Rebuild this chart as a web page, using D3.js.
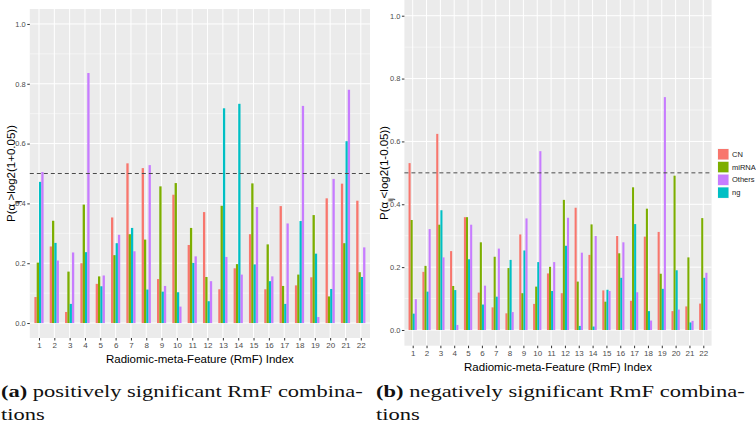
<!DOCTYPE html>
<html>
<head>
<meta charset="utf-8">
<script src="https://cdn.jsdelivr.net/npm/d3@7"></script>
<style>
  html, body { margin: 0; padding: 0; background: #fff; }
  svg { display: block; }
</style>
</head>
<body>
<svg id="chart" width="756" height="431"></svg>
<script>
// ---------------- DATA ----------------
const categories = ["1","2","3","4","5","6","7","8","9","10","11","12","13","14","15","16","17","18","19","20","21","22"];
const dodgeOrder = ["CN", "miRNA", "ng", "Others"];
const legendOrder = ["CN", "miRNA", "Others", "ng"];
const seriesColors = ["#F8766D", "#7CAE00", "#00BFC4", "#C77CFF"]; // CN, miRNA, ng, Others
const yTicks = [0, 0.2, 0.4, 0.6, 0.8, 1.0];
const yMinorTicks = [0.1, 0.3, 0.5, 0.7, 0.9];
const threshold = 0.5;

// (a) positively significant
const posCN     = [0.087,0.256,0.037,0.200,0.131,0.353,0.534,0.518,0.147,0.429,0.261,0.371,0.113,0.183,0.297,0.113,0.391,0.126,0.153,0.417,0.466,0.409];
const posMiRNA  = [0.202,0.342,0.172,0.396,0.156,0.227,0.297,0.279,0.457,0.468,0.318,0.154,0.392,0.197,0.467,0.263,0.124,0.162,0.361,0.089,0.267,0.170];
const posNg     = [0.472,0.268,0.064,0.237,0.123,0.267,0.318,0.112,0.105,0.103,0.201,0.073,0.718,0.733,0.196,0.140,0.064,0.341,0.232,0.114,0.608,0.154];
const posOthers = [0.505,0.209,0.236,0.836,0.159,0.295,0.240,0.528,0.124,0.055,0.223,0.140,0.221,0.162,0.388,0.156,0.333,0.726,0.020,0.482,0.780,0.253];

// (b) negatively significant
const negCN     = [0.531,0.185,0.624,0.251,0.359,0.119,0.072,0.053,0.304,0.083,0.180,0.117,0.389,0.239,0.126,0.299,0.093,0.297,0.312,0.060,0.075,0.084];
const negMiRNA  = [0.350,0.204,0.335,0.140,0.359,0.279,0.233,0.197,0.117,0.138,0.201,0.414,0.154,0.336,0.090,0.244,0.454,0.386,0.179,0.491,0.231,0.356];
const negNg     = [0.052,0.122,0.381,0.127,0.225,0.081,0.106,0.223,0.253,0.216,0.124,0.268,0.013,0.011,0.128,0.166,0.337,0.060,0.131,0.190,0.024,0.166];
const negOthers = [0.098,0.321,0.231,0.016,0.335,0.141,0.259,0.057,0.355,0.569,0.216,0.357,0.246,0.299,0.124,0.279,0.120,0.030,0.741,0.065,0.029,0.182];

const xTitle = "Radiomic-meta-Feature (RmF) Index";

// ---------------- DRAW ----------------
const svg = d3.select("#chart");
const sans = "'Liberation Sans', Arial, Helvetica, sans-serif";
const serif = "'Liberation Serif', 'Times New Roman', serif";
const color = d3.scaleOrdinal().domain(dodgeOrder).range(seriesColors);

function drawPanel(cfg) {
  const g = svg.append("g");
  const x = d3.scalePoint().domain(categories).range([cfg.left, cfg.right]).padding(0.6);
  const y = d3.scaleLinear().domain([-0.05, 1.05]).range([cfg.bottom, cfg.top]);
  const step = x.step();
  const inner = d3.scaleBand().domain(dodgeOrder).range([-0.3 * step, 0.3 * step]);

  g.append("rect")
    .attr("x", cfg.left).attr("y", cfg.top)
    .attr("width", cfg.right - cfg.left).attr("height", cfg.bottom - cfg.top)
    .attr("fill", "#EBEBEB");

  g.selectAll(".ymin").data(yMinorTicks).join("line")
    .attr("x1", cfg.left).attr("x2", cfg.right)
    .attr("y1", d => y(d)).attr("y2", d => y(d))
    .attr("stroke", "#fff").attr("stroke-width", 0.5);
  g.selectAll(".ymaj").data(yTicks).join("line")
    .attr("x1", cfg.left).attr("x2", cfg.right)
    .attr("y1", d => y(d)).attr("y2", d => y(d))
    .attr("stroke", "#fff").attr("stroke-width", 1);
  g.selectAll(".xmaj").data(categories).join("line")
    .attr("x1", d => x(d)).attr("x2", d => x(d))
    .attr("y1", cfg.top).attr("y2", cfg.bottom)
    .attr("stroke", "#fff").attr("stroke-width", 1);

  const rows = [];
  categories.forEach((c, i) => {
    dodgeOrder.forEach((s) => {
      rows.push({ cat: c, series: s, value: cfg.values[s][i] });
    });
  });
  g.selectAll(".bar").data(rows).join("rect")
    .attr("x", d => x(d.cat) + inner(d.series))
    .attr("width", inner.bandwidth())
    .attr("y", d => y(d.value))
    .attr("height", d => y(0) - y(d.value))
    .attr("fill", d => color(d.series));

  g.append("line")
    .attr("x1", cfg.left).attr("x2", cfg.right)
    .attr("y1", y(threshold)).attr("y2", y(threshold))
    .attr("stroke", "#4a4a4a").attr("stroke-width", 1)
    .attr("stroke-dasharray", "4,3");

  const yAxis = d3.axisLeft(y).tickValues(yTicks).tickFormat(d3.format(".1f")).tickSize(2.5).tickPadding(1.5);
  const ya = g.append("g").attr("transform", `translate(${cfg.left},0)`).call(yAxis);
  ya.select(".domain").remove();
  ya.selectAll(".tick line").attr("stroke", "#333");
  ya.selectAll(".tick text").attr("fill", "#4D4D4D").style("font", `7.5px ${sans}`);

  const xAxis = d3.axisBottom(x).tickSize(2.5).tickPadding(2);
  const xa = g.append("g").attr("transform", `translate(0,${cfg.bottom})`).call(xAxis);
  xa.select(".domain").remove();
  xa.selectAll(".tick line").attr("stroke", "#333");
  xa.selectAll(".tick text").attr("fill", "#4D4D4D").style("font", `8px ${sans}`);

  g.append("text")
    .attr("x", (cfg.left + cfg.right) / 2).attr("y", cfg.bottom + 25)
    .attr("text-anchor", "middle")
    .attr("fill", "#000")
    .style("font", `11.5px ${sans}`)
    .text(xTitle);

  const yt = g.append("text")
    .attr("transform", `translate(${cfg.ytx},${(cfg.top + cfg.bottom) / 2}) rotate(-90)`)
    .attr("text-anchor", "middle")
    .attr("fill", "#000")
    .style("font", `11.5px ${sans}`);
  yt.append("tspan").text("P(\u03B1");
  yt.append("tspan").attr("baseline-shift", "sub").style("font-size", "7.5px").text("ij");
  yt.append("tspan").text(cfg.yrel);

  const cap1 = g.append("text").attr("fill", "#111").style("font", `17px ${serif}`);
  cap1.append("tspan").attr("font-weight", "bold").text(cfg.capLabel);
  cap1.append("tspan").text(" " + cfg.capText);
  const w1 = cap1.node().getComputedTextLength();
  cap1.attr("transform", `translate(${cfg.capX},${cfg.capY}) scale(${cfg.capW / w1},1)`);
  const cap2 = g.append("text").attr("fill", "#111").style("font", `17px ${serif}`).text(cfg.capText2);
  cap2.attr("transform", `translate(${cfg.capX},${cfg.capY + 23}) scale(${cfg.capW / w1},1)`);
}

drawPanel({
  left: 29.8, right: 370, top: 9, bottom: 338, ytx: 15,
  yrel: ">log2(1+0.05))",
  values: { CN: posCN, miRNA: posMiRNA, ng: posNg, Others: posOthers },
  capLabel: "(a)", capText: "positively significant RmF combina-", capText2: "tions",
  capX: 1, capY: 397, capW: 362
});

drawPanel({
  left: 404.4, right: 711.6, top: 0, bottom: 345.7, ytx: 388,
  yrel: "<log2(1-0.05))",
  values: { CN: negCN, miRNA: negMiRNA, ng: negNg, Others: negOthers },
  capLabel: "(b)", capText: "negatively significant RmF combina-", capText2: "tions",
  capX: 376, capY: 397, capW: 369
});

const legend = svg.append("g").attr("transform", "translate(717.5,148.5)");
const keyS = 11.5, keyStep = 12.8;
legendOrder.forEach((s, i) => {
  const r = legend.append("g").attr("transform", `translate(0,${i * keyStep})`);
  r.append("rect").attr("width", keyS).attr("height", keyS).attr("fill", "#F2F2F2");
  r.append("rect").attr("x", 0.5).attr("y", 0.5).attr("width", keyS - 1).attr("height", keyS - 1).attr("fill", color(s));
  r.append("text").attr("x", keyS + 3).attr("y", keyS / 2).attr("dy", "0.35em")
    .attr("fill", "#1a1a1a").style("font", `7.5px ${sans}`).text(s);
});
</script>
</body>
</html>
